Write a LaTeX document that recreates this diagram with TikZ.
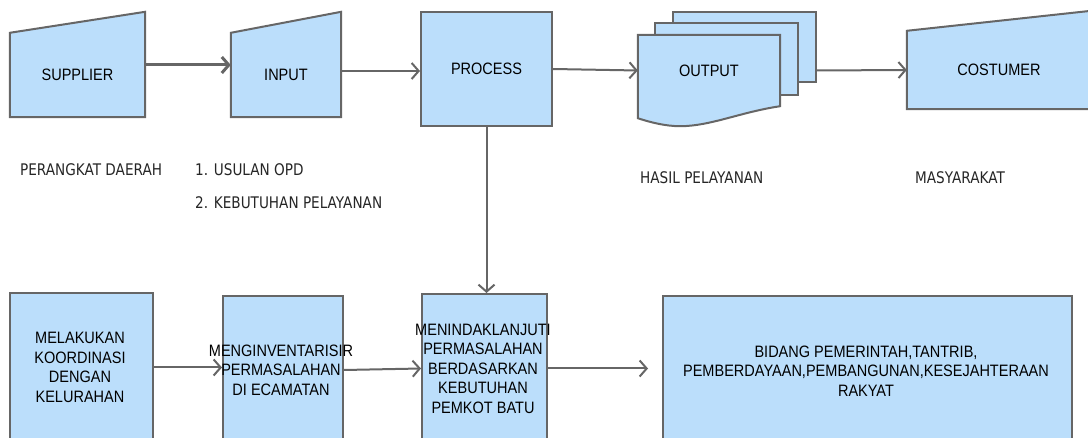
\documentclass[tikz,border=0pt]{standalone}
\usepackage{fontspec}
\usepackage{tikz}
\usetikzlibrary{positioning}
\usetikzlibrary{calc}
\usetikzlibrary{arrows.meta}
\usetikzlibrary{backgrounds}
\newfontfamily\boxfont[FakeStretch=0.88]{Liberation Sans}
\newfontfamily\notefont[FakeStretch=0.85]{DejaVu Sans}
\definecolor{boxblue}{RGB}{187,222,251}
\definecolor{edgegray}{RGB}{102,102,102}

\begin{document}
\begin{tikzpicture}[x=1pt,y=-1pt,
    flowbox/.style={fill=boxblue,draw=edgegray,line width=2pt},
    boxtext/.style={font=\boxfont\fontsize{16.5}{19.5}\selectfont,align=center,text=black,inner sep=0pt},
    notetext/.style={font=\notefont\fontsize{16}{19}\selectfont,text=black!85,anchor=west,inner sep=0pt},
    flow/.style={draw=edgegray,line width=2pt,-{Straight Barb[length=7pt,width=16pt]}}]

    \useasboundingbox (0,0) rectangle (1088,438);
    \clip (0,0) rectangle (1088,438);

    \node[boxtext,minimum width=135pt,minimum height=84pt] (sup) at (77.5,75) {SUPPLIER};
    \node[boxtext,minimum width=110pt,minimum height=84pt] (inp) at (286,75) {INPUT};
    \node[boxtext,flowbox,minimum width=131pt,minimum height=114pt] (proc) at (486.5,69) {PROCESS};
    \node[boxtext,minimum width=142pt,minimum height=71pt] (outp) at (709,70.5) {OUTPUT};
    \node[boxtext,minimum width=184pt,minimum height=78pt] (cos) at (999,70) {COSTUMER};

    \begin{scope}[on background layer]
        \path[flowbox] (sup.south west) -- (sup.north west) -- ([yshift=21pt]sup.north east) -- (sup.south east) -- cycle;
        \path[flowbox] (inp.south west) -- (inp.north west) -- ([yshift=21pt]inp.north east) -- (inp.south east) -- cycle;
        \path[flowbox] (cos.south west) -- (cos.north west) -- ([yshift=20pt]cos.north east) -- (cos.south east) -- cycle;

        \node[flowbox,minimum width=143pt,minimum height=70pt] (out3) at (744.5,47) {};
        \node[flowbox,minimum width=143pt,minimum height=72pt] (out2) at (726.5,59) {};
        \path[flowbox] (outp.north west) -- (outp.north east) -- (outp.south east)
            .. controls +(-40,6) and +(30,0) .. ([xshift=-100pt,yshift=-20pt]outp.south east)
            .. controls +(-15,0) and +(12,4) .. ([yshift=-12pt]outp.south west) -- cycle;
    \end{scope}

    \node[notetext] (pd) at (20,170) {PERANGKAT DAERAH};
    \node[notetext] (usul) at (195,170) {1. USULAN OPD};
    \node[notetext] (kebut) at (195,203) {2. KEBUTUHAN PELAYANAN};
    \node[notetext] (hasil) at (640,178) {HASIL PELAYANAN};
    \node[notetext] (masy) at (915,178) {MASYARAKAT};

    \node[flowbox,minimum width=143pt,minimum height=149pt] (kor) at (81.5,367.5) {};
    \node[boxtext] (kortext) at (80,367.5) {MELAKUKAN\\KOORDINASI\\DENGAN\\KELURAHAN};
    \node[flowbox,minimum width=120pt,minimum height=148pt] (inv) at (283,370) {};
    \node[boxtext] (invtext) at (281,370) {MENGINVENTARISIR\\PERMASALAHAN\\DI ECAMATAN};
    \node[flowbox,minimum width=125pt,minimum height=149pt] (tl) at (484.5,368.5) {};
    \node[boxtext] (tltext) at (483,368.5) {MENINDAKLANJUTI\\PERMASALAHAN\\BERDASARKAN\\KEBUTUHAN\\PEMKOT BATU};
    \node[flowbox,minimum width=409pt,minimum height=150pt] (bid) at (867.5,371) {};
    \node[boxtext] (bidtext) at (866,371) {BIDANG PEMERINTAH,TANTRIB,\\PEMBERDAYAAN,PEMBANGUNAN,KESEJAHTERAAN\\RAKYAT};

    \draw[flow,line width=3pt] ([yshift=10pt]sup.east) -- ([yshift=10pt]inp.west);
    \draw[flow] ([yshift=4pt]inp.east) -- ([yshift=-2pt]proc.west);
    \draw[flow] (proc.east) -- (outp.west);
    \draw[flow] (outp.center -| out3.east) -- (cos.west);
    \draw[flow] (proc.south) -- (proc.south |- tl.north);

    \draw[flow] (kor.east) -- (kor.east -| inv.west);
    \draw[flow] (inv.east) -- (tl.west);
    \draw[flow] (tl.east) -- ($(tl.east -| bid.west)+(-14,0)$);
\end{tikzpicture}
\end{document}
